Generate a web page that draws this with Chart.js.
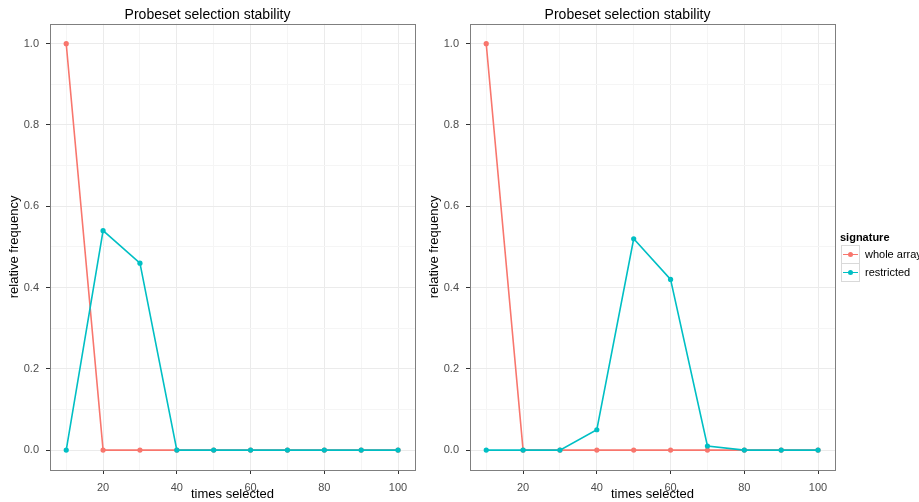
<!DOCTYPE html>
<html>

<head>
    <title>Probeset selection stability</title>
    <meta charset="utf-8" />
    <style>
        body { margin: 0; background: #fff; font-family: "Liberation Sans", Arial, sans-serif; }
        canvas { position: absolute; top: 0; }
        #legend { position: absolute; left: 838px; top: 231px; font-size: 11px; color: #000; white-space: nowrap; }
        #legend .ttl { font-weight: bold; margin-left: 2px; margin-bottom: 2px; }
        #legend .row { height: 18px; display: flex; align-items: center; }
        #legend .key { position: relative; width: 17px; height: 17px; border: 1px solid #d9d9d9; margin-left: 3px; margin-right: 5px; flex: none; }
        #legend .key .ln { position: absolute; left: 1px; right: 1px; top: 8px; height: 1.5px; }
        #legend .key .pt { position: absolute; left: 6px; top: 6px; width: 5px; height: 5px; border-radius: 50%; }
    </style>
</head>

<body>
    <canvas id="leftChart" width="420" height="502" style="left:0px"></canvas>
    <canvas id="rightChart" width="420" height="502" style="left:420px"></canvas>
    <div id="legend"></div>

    <script src="https://cdn.jsdelivr.net/npm/chart.js"></script>
    <script type="text/javascript">
        // data
        const times = [10, 20, 30, 40, 50, 60, 70, 80, 90, 100];
        const leftWhole = [1.0, 0, 0, 0, 0, 0, 0, 0, 0, 0];
        const leftRestricted = [0, 0.54, 0.46, 0, 0, 0, 0, 0, 0, 0];
        const rightWhole = [1.0, 0, 0, 0, 0, 0, 0, 0, 0, 0];
        const rightRestricted = [0, 0, 0, 0.05, 0.52, 0.42, 0.01, 0, 0, 0];

        const seriesNames = ['whole array', 'restricted'];
        const seriesColors = ['#F8766D', '#00BFC4'];
        const chartTitle = 'Probeset selection stability';
        const xTitle = 'times selected';
        const yTitle = 'relative frequency';
        const legendTitle = 'signature';

        const FONT = '"Liberation Sans", Arial, sans-serif';

        // box around the plot panel
        const panelBorder = {
            id: 'panelBorder',
            afterDraw(chart) {
                const a = chart.chartArea;
                const ctx = chart.ctx;
                ctx.save();
                ctx.strokeStyle = '#7f7f7f';
                ctx.lineWidth = 1;
                ctx.strokeRect(Math.round(a.left) + 0.5, Math.round(a.top) + 0.5,
                    Math.round(a.right - a.left), Math.round(a.bottom - a.top));
                ctx.restore();
            }
        };

        function toPoints(values) {
            return times.map((t, i) => ({ x: t, y: values[i] }));
        }

        function isMajorX(v) { return Math.round(v) % 20 === 0; }
        function isMajorY(v) { return Math.round(v * 10) % 2 === 0; }

        function makeChart(id, whole, restricted) {
            const ctx = document.getElementById(id);
            const sets = [whole, restricted].map((vals, i) => ({
                label: seriesNames[i],
                data: toPoints(vals),
                borderColor: seriesColors[i],
                backgroundColor: seriesColors[i],
                borderWidth: 1.6,
                pointRadius: 2.6,
                pointHoverRadius: 2.6,
                pointBorderWidth: 0,
                order: i === 0 ? 1 : 0,
                tension: 0
            }));

            return new Chart(ctx, {
                type: 'line',
                data: { datasets: sets },
                plugins: [panelBorder],
                options: {
                    responsive: false,
                    animation: false,
                    layout: { padding: { left: 0, right: 5, top: 0, bottom: 0 } },
                    plugins: {
                        legend: { display: false },
                        tooltip: { enabled: false },
                        title: {
                            display: true,
                            text: chartTitle,
                            color: '#000',
                            font: { family: FONT, size: 14, weight: 'normal' },
                            padding: { top: 7, bottom: 0 }
                        }
                    },
                    scales: {
                        x: {
                            type: 'linear',
                            min: 5.6,
                            max: 104.6,
                            border: { display: false },
                            grid: {
                                color: (c) => isMajorX(c.tick.value) ? '#ebebeb' : '#f5f5f5',
                                tickColor: (c) => isMajorX(c.tick.value) ? '#333333' : 'rgba(0,0,0,0)',
                                tickLength: 4,
                                lineWidth: 1
                            },
                            ticks: {
                                stepSize: 10,
                                includeBounds: false,
                                autoSkip: false,
                                maxRotation: 0,
                                padding: 7,
                                color: '#4d4d4d',
                                font: { family: FONT, size: 11 },
                                callback: (v) => isMajorX(v) ? String(Math.round(v)) : ''
                            },
                            title: {
                                display: true,
                                text: xTitle,
                                color: '#000',
                                font: { family: FONT, size: 13 },
                                padding: { top: 0, bottom: 0 }
                            },
                            afterFit: (scale) => { scale.height = 32; }
                        },
                        y: {
                            type: 'linear',
                            min: -0.049,
                            max: 1.049,
                            border: { display: false },
                            grid: {
                                color: (c) => isMajorY(c.tick.value) ? '#ebebeb' : '#f5f5f5',
                                tickColor: (c) => isMajorY(c.tick.value) ? '#333333' : 'rgba(0,0,0,0)',
                                tickLength: 4,
                                lineWidth: 1
                            },
                            ticks: {
                                stepSize: 0.1,
                                includeBounds: false,
                                autoSkip: false,
                                padding: 7,
                                color: '#4d4d4d',
                                font: { family: FONT, size: 11 },
                                callback: (v) => isMajorY(v) ? (Math.round(v * 10) / 10).toFixed(1) : ''
                            },
                            title: {
                                display: true,
                                text: yTitle,
                                color: '#000',
                                font: { family: FONT, size: 13 },
                                padding: { top: 7, bottom: 0 }
                            },
                            afterFit: (scale) => { scale.width = 50; }
                        }
                    }
                }
            });
        }

        makeChart('leftChart', leftWhole, leftRestricted);
        makeChart('rightChart', rightWhole, rightRestricted);

        // legend like ggplot's guide box
        const legend = document.getElementById('legend');
        let html = '<div class="ttl">' + legendTitle + '</div>';
        seriesNames.forEach((name, i) => {
            html += '<div class="row"><div class="key">' +
                '<div class="ln" style="background:' + seriesColors[i] + '"></div>' +
                '<div class="pt" style="background:' + seriesColors[i] + '"></div>' +
                '</div><span>' + name + '</span></div>';
        });
        legend.innerHTML = html;
    </script>
</body>

</html>
